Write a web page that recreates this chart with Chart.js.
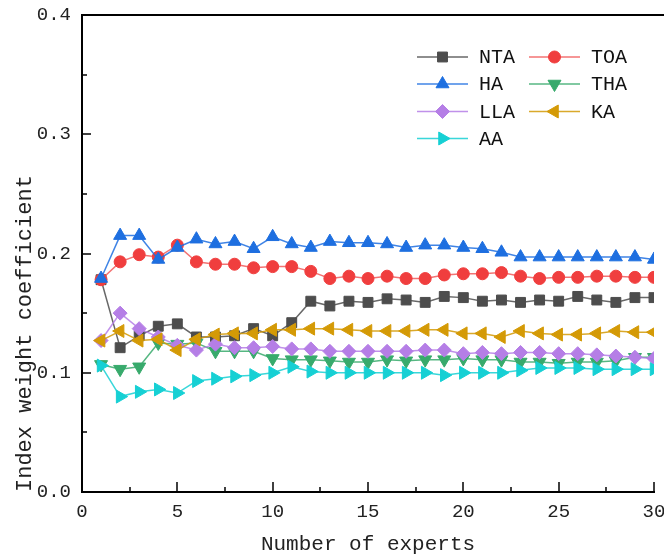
<!DOCTYPE html>
<html>
<head>
<meta charset="utf-8">
<script src="https://cdn.jsdelivr.net/npm/chart.js@4.4.1/dist/chart.umd.min.js"></script>
<style>
html,body{margin:0;padding:0;background:#fff;}
#wrap{width:664px;height:556px;}
</style>
</head>
<body>
<div id="wrap"><canvas id="c" width="664" height="556"></canvas></div>
<script>
const experts = [1,2,3,4,5,6,7,8,9,10,11,12,13,14,15,16,17,18,19,20,21,22,23,24,25,26,27,28,29,30];
const seriesNames = ['NTA','TOA','HA','THA','LLA','KA','AA'];
const NTA = [0.178,0.121,0.131,0.139,0.141,0.130,0.130,0.131,0.137,0.131,0.142,0.160,0.156,0.160,0.159,0.162,0.161,0.159,0.164,0.163,0.160,0.161,0.159,0.161,0.160,0.164,0.161,0.159,0.163,0.163];
const TOA = [0.178,0.193,0.199,0.197,0.207,0.193,0.191,0.191,0.188,0.189,0.189,0.185,0.179,0.181,0.179,0.181,0.179,0.179,0.182,0.183,0.183,0.184,0.181,0.179,0.180,0.180,0.181,0.181,0.180,0.180];
const HA  = [0.179,0.215,0.215,0.195,0.205,0.212,0.208,0.210,0.204,0.214,0.208,0.205,0.210,0.209,0.209,0.208,0.205,0.207,0.207,0.205,0.204,0.201,0.197,0.197,0.197,0.197,0.197,0.197,0.197,0.195];
const THA = [0.107,0.103,0.105,0.125,0.124,0.125,0.118,0.118,0.118,0.112,0.111,0.111,0.110,0.109,0.109,0.111,0.110,0.111,0.111,0.112,0.111,0.111,0.109,0.109,0.108,0.109,0.109,0.110,0.113,0.113];
const LLA = [0.127,0.150,0.137,0.130,0.123,0.119,0.124,0.121,0.121,0.122,0.120,0.120,0.118,0.118,0.118,0.118,0.118,0.119,0.119,0.116,0.117,0.116,0.117,0.117,0.116,0.116,0.115,0.114,0.113,0.112];
const KA  = [0.127,0.135,0.127,0.128,0.119,0.128,0.132,0.133,0.133,0.136,0.136,0.137,0.137,0.136,0.135,0.135,0.135,0.136,0.136,0.133,0.133,0.130,0.135,0.133,0.132,0.132,0.133,0.135,0.134,0.134];
const AA  = [0.106,0.080,0.084,0.086,0.083,0.093,0.095,0.097,0.098,0.100,0.105,0.101,0.100,0.100,0.100,0.100,0.100,0.100,0.098,0.100,0.100,0.100,0.102,0.104,0.104,0.104,0.103,0.103,0.103,0.103];
const yTicks = [0.0,0.1,0.2,0.3,0.4];
const xTicks = [0,5,10,15,20,25,30];

const styles = [
  {c:'#4d4d4d', l:'rgba(77,77,77,0.85)', p:'rect', r:7, rot:0},
  {c:'#f03e3e', l:'rgba(240,80,80,0.8)', p:'circle', r:6, rot:0},
  {c:'#1e6fe0', l:'rgba(30,111,224,0.85)', p:'triangle', r:7.5, rot:0},
  {c:'#38aa6c', l:'rgba(56,170,108,0.85)', p:'triangle', r:7.5, rot:180},
  {c:'#b57ee6', l:'rgba(181,126,230,0.85)', p:'rectRot', r:7, rot:0},
  {c:'#d49a06', l:'rgba(212,154,6,0.85)', p:'triangle', r:7.5, rot:270},
  {c:'#16d0d4', l:'rgba(22,208,212,0.85)', p:'triangle', r:7.5, rot:90}
];
const allSeries = [NTA,TOA,HA,THA,LLA,KA,AA];

const datasets = allSeries.map((vals,i)=>({
  label: seriesNames[i],
  data: experts.map((x,j)=>({x:x,y:vals[j]})),
  borderColor: styles[i].l,
  backgroundColor: styles[i].c,
  pointBackgroundColor: styles[i].c,
  pointBorderColor: styles[i].c,
  pointBorderWidth: 1,
  pointStyle: styles[i].p,
  pointRadius: styles[i].r,
  pointRotation: styles[i].rot,
  borderWidth: 1.5,
  tension: 0,
  order: 6 - i
}));

const monoFont = "'Liberation Mono', 'DejaVu Sans Mono', monospace";

const decor = {
  id:'decor',
  afterDraw(chart){
    const ctx = chart.ctx;
    const ca = chart.chartArea;
    const xs = chart.scales.x, ys = chart.scales.y;
    ctx.save();
    ctx.strokeStyle = '#000';
    ctx.lineWidth = 2;
    ctx.beginPath();
    ctx.moveTo(ca.left-1, ca.top);
    ctx.lineTo(chart.width, ca.top);
    ctx.stroke();
    ctx.lineWidth = 1.5;
    for (let v=2.5; v<=30.01; v+=2.5){
      const px = Math.round(xs.getPixelForValue(v));
      const major = Math.abs(v/5 - Math.round(v/5))<1e-6;
      ctx.beginPath();
      ctx.moveTo(px, ca.bottom);
      ctx.lineTo(px, ca.bottom - (major?10:5));
      ctx.stroke();
    }
    for (let k=1; k<8; k++){
      const v = k*0.05;
      const py = Math.round(ys.getPixelForValue(v));
      const major = k%2===0;
      ctx.beginPath();
      ctx.moveTo(ca.left, py);
      ctx.lineTo(ca.left + (major?9:5), py);
      ctx.stroke();
    }
    const rowsY = [57,84,111.5,138.5];
    const cols = [{lx:417, tx:479},{lx:529, tx:591}];
    ctx.font = "20px " + monoFont;
    ctx.textBaseline = 'middle';
    ctx.textAlign = 'left';
    seriesNames.forEach((name,i)=>{
      const col = cols[i%2];
      const y = rowsY[Math.floor(i/2)];
      const s = styles[i];
      ctx.strokeStyle = s.l;
      ctx.lineWidth = 1.5;
      ctx.beginPath();
      ctx.moveTo(col.lx, y);
      ctx.lineTo(col.lx+51, y);
      ctx.stroke();
      ctx.fillStyle = s.c;
      ctx.strokeStyle = s.c;
      ctx.lineWidth = 1;
      Chart.helpers.drawPoint(ctx, {pointStyle:s.p, radius:s.r, rotation:s.rot, borderWidth:1}, col.lx+25.5, y);
      ctx.fillStyle = '#111';
      ctx.fillText(name, col.tx, y+1);
    });
    ctx.restore();
  }
};

new Chart(document.getElementById('c'), {
  type: 'line',
  data: { datasets },
  options: {
    responsive: false,
    animation: false,
    layout: { padding: { top: 15, right: 10, left: 0, bottom: 0 } },
    plugins: { legend: { display: false }, tooltip: { enabled: false } },
    scales: {
      x: {
        type: 'linear', min: 0, max: 30,
        afterFit(s){ s.height = 64; s.paddingLeft = 0; s.paddingRight = 0; },
        grid: { display: true, drawOnChartArea: false, drawTicks: false },
        border: { display: true, color: '#000', width: 2 },
        ticks: {
          stepSize: 5, padding: 9, color: '#222',
          font: { family: monoFont, size: 19 },
          callback: (v)=> xTicks.includes(v) ? String(v) : ''
        },
        title: {
          display: true, text: 'Number of experts', color: '#222',
          font: { family: monoFont, size: 21, lineHeight: 1 },
          padding: { top: 1, bottom: 1 }
        }
      },
      y: {
        min: 0, max: 0.4,
        afterFit(s){ s.width = 82; s.paddingTop = 0; s.paddingBottom = 0; },
        grid: { display: true, drawOnChartArea: false, drawTicks: false },
        border: { display: true, color: '#000', width: 2 },
        ticks: {
          stepSize: 0.1, padding: 11, color: '#222',
          font: { family: monoFont, size: 19 },
          callback: (v)=> { const t = yTicks.find(q=>Math.abs(q-v)<1e-9); return t===undefined ? '' : t.toFixed(1); }
        },
        title: {
          display: true, text: 'Index weight coefficient', color: '#222', align: 'start',
          font: { family: monoFont, size: 22, lineHeight: 1 },
          padding: { top: 14, bottom: 0 }
        }
      }
    }
  },
  plugins: [decor]
});
</script>
</body>
</html>
